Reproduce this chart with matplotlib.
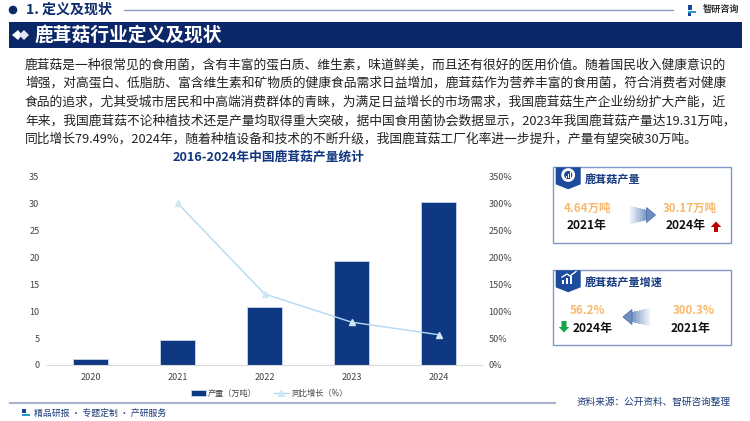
import matplotlib
matplotlib.use("Agg")
import matplotlib.pyplot as plt
from matplotlib.patches import Rectangle, Polygon, Circle, FancyArrow
import numpy as np

plt.rcParams['font.family'] = ['Noto Sans CJK SC', 'DejaVu Sans']

years = ["2020", "2021", "2022", "2023", "2024"]
output = [1.2, 4.64, 10.76, 19.31, 30.17]
growth = [None, 300.3, 131.9, 79.49, 56.2]
left_ticks = [0, 5, 10, 15, 20, 25, 30, 35]
right_ticks = [0, 50, 100, 150, 200, 250, 300, 350]
body_lines = [
    "鹿茸菇是一种很常见的食用菌，含有丰富的蛋白质、维生素，味道鲜美，而且还有很好的医用价值。随着国民收入健康意识的",
    "增强，对高蛋白、低脂肪、富含维生素和矿物质的健康食品需求日益增加，鹿茸菇作为营养丰富的食用菌，符合消费者对健康",
    "食品的追求，尤其受城市居民和中高端消费群体的青睐，为满足日益增长的市场需求，我国鹿茸菇生产企业纷纷扩大产能，近",
    "年来，我国鹿茸菇不论种植技术还是产量均取得重大突破，据中国食用菌协会数据显示，2023年我国鹿茸菇产量达19.31万吨，",
    "同比增长79.49%，2024年，随着种植设备和技术的不断升级，我国鹿茸菇工厂化率进一步提升，产量有望突破30万吨。",
]

NAVY = "#0d2b6b"
BAR = "#0f3882"
W, H = 750, 421
fig = plt.figure(figsize=(W/100, H/100), dpi=100, facecolor="white")

bg = fig.add_axes([0, 0, 1, 1])
bg.set_xlim(0, W); bg.set_ylim(H, 0); bg.axis("off")

# header
bg.add_patch(Circle((13, 10), 3.6, color=NAVY))
bg.text(26.5, 10, "1. 定义及现状", fontsize=10.1, fontweight="bold", color=NAVY, va="center")
bg.plot([124, 673], [9.5, 9.5], color="#8d9cbd", lw=1)
bg.add_patch(Rectangle((9, 22), 732.5, 26, color="#0c2768", lw=0))
bg.add_patch(Polygon([(12, 35), (18, 30), (22, 35), (18, 40)], color="white", lw=0))
bg.add_patch(Polygon([(19, 35), (24, 30), (29, 35), (24, 40)], color="#dfe4ee", lw=0))
bg.text(35, 35, "鹿茸菇行业定义及现状", fontsize=13.5, fontweight="bold", color="white", va="center")
bg.add_patch(Rectangle((688, 5), 4, 5, color="#16459a", lw=0))
bg.add_patch(Rectangle((688, 11), 8, 2, color="#2a9bd8", lw=0))
bg.add_patch(Rectangle((688, 13), 3, 3, color="#16459a", lw=0))
bg.text(702.7, 9.5, "智研咨询", fontsize=6.6, fontweight="bold", color="#333333", va="center")

# body
ys = [64.7, 83, 102, 120.7, 139.5]
for y, s in zip(ys, body_lines):
    bg.text(25, y, s, fontsize=9.2, color="#222222", va="center")

bg.text(269, 157, "2016-2024年中国鹿茸菇产量统计", fontsize=9.2, fontweight="bold",
        color="#10367f", ha="center", va="center")

# chart
ax = fig.add_axes([47/W, 1-365/H, (482-47)/W, (365-176.3)/H])
ax.patch.set_alpha(0)
x = np.arange(len(years))
ax.bar(x, output, width=0.4, color=BAR, edgecolor="#c9d6ea", linewidth=0.6, label="产量（万吨）")
ax.set_xlim(-0.5, 4.5); ax.set_ylim(0, 35)
ax.set_yticks(left_ticks)
ax.set_xticks(x, years)
ax.tick_params(length=0, labelsize=6.5, labelcolor="#444444")
ax.tick_params(axis="x", pad=5.5)
ax.tick_params(axis="y", pad=5.5)
for s in ["top", "left", "right"]:
    ax.spines[s].set_visible(False)
ax.spines["bottom"].set_color("#d9d9d9")

ax2 = ax.twinx()
ax2.patch.set_alpha(0)
gx = [i for i, v in enumerate(growth) if v is not None]
gy = [v for v in growth if v is not None]
ax2.plot(gx, gy, color="#b5d9f0", lw=1.0, marker="^", ms=4.5, mfc="#cfe6f5", mec="#cfe6f5",
         label="同比增长（%）")
ax2.set_ylim(0, 350)
ax2.set_yticks(right_ticks, [f"{t}%" for t in right_ticks])
ax2.tick_params(length=0, labelsize=6.5, labelcolor="#444444", pad=4.5)
for s in ax2.spines.values():
    s.set_visible(False)

h1, l1 = ax.get_legend_handles_labels()
h2, l2 = ax2.get_legend_handles_labels()
fig.legend(h1 + h2, l1 + l2, loc="center", bbox_to_anchor=(269/W, 1-393/H), ncol=2, frameon=False,
           fontsize=5.85, labelcolor="#444444", handlelength=1.9, columnspacing=2.1, handletextpad=0.2)

# footer
bg.plot([9.5, 555], [402.7, 402.7], color="#a9b2cc", lw=1.5)
bg.add_patch(Rectangle((22, 409), 4, 4, color="#16459a", lw=0))
bg.add_patch(Rectangle((22, 414), 8, 2, color="#2a9bd8", lw=0))
bg.text(34, 413, "精品研报 · 专题定制 · 产研服务", fontsize=6.4, color="#1b3a78", va="center")
bg.text(576.5, 401.5, "资料来源：公开资料、智研咨询整理", fontsize=6.95, color="#1b3a78", va="center")


def panel(y0, y1, title, items):
    bg.add_patch(Rectangle((552.5, y0), 178, y1 - y0, fill=False, ec="#7f98c6", lw=1))
    bg.add_patch(Polygon([(555.7, y0), (580.7, y0), (580.7, y0+17), (568.2, y0+22), (555.7, y0+17)],
                         color="#1e4c9c", lw=0))
    bg.text(585, y0+12.5, title, fontsize=8, fontweight="bold", color="#173a80", va="center")
    for (xx, yy, t, col, fs) in items:
        bg.text(xx, yy, t, color=col, fontsize=fs, fontweight="bold", ha="center", va="center")


ORANGE = "#f9b96c"
panel(167.3, 243.3, "鹿茸菇产量", [
    (587.5, 208, "4.64万吨", ORANGE, 8.3),
    (587, 226, "2021年", "#111111", 8.6),
    (689.5, 208, "30.17万吨", ORANGE, 8.3),
    (686, 226, "2024年", "#111111", 8.6),
])
panel(270.3, 345.3, "鹿茸菇产量增速", [
    (587.5, 310, "56.2%", ORANGE, 8.3),
    (592.7, 328.5, "2024年", "#111111", 8.6),
    (694, 310, "300.3%", ORANGE, 8.3),
    (691, 328.5, "2021年", "#111111", 8.6),
])

# icons on the badges
bg.add_patch(Circle((568.2, 175), 5.5, fill=False, ec="white", lw=2))
for dx, h in [(-2, 2), (0, 4), (2, 6)]:
    bg.add_patch(Rectangle((568.2+dx-0.7, 178-h), 1.4, h, color="white", lw=0))
for dx, h in [(-5, 4), (-1, 6), (3, 8)]:
    bg.add_patch(Rectangle((568.2+dx-1, 284-h), 2.2, h, color="white", lw=0))
bg.plot([562, 567, 570, 576], [277, 274, 276, 271.5], color="white", lw=1)


# gradient arrows
def grad_arrow(xa, xb, yc):
    """Arrow from xa (faded end) to xb (tip)."""
    sgn = 1 if xb > xa else -1
    head = 9 * sgn
    n = 24
    edges = np.linspace(xa, xb - head, n + 1)
    for i in range(n):
        a = i / n
        col = (1 - a * (1 - 0.47), 1 - a * (1 - 0.58), 1 - a * (1 - 0.76))
        half = 9.5 - 4.5 * a
        bg.add_patch(Rectangle((min(edges[i], edges[i+1]), yc - half), abs(edges[i+1] - edges[i]) + 0.3,
                               2 * half, color=col, lw=0))
    bg.add_patch(Polygon([(xb - head, yc - 7.5), (xb, yc), (xb - head, yc + 7.5)],
                         fc="#6f8dc0", ec="#4f72ad", lw=0.6))


grad_arrow(628, 655.5, 215)
grad_arrow(651.5, 623, 317)

# red / green arrows
bg.add_patch(FancyArrow(716, 232, 0, -10.5, width=4, head_width=10.5, head_length=5.5,
                        length_includes_head=True, color="#c00000", lw=0))
bg.add_patch(FancyArrow(564, 321, 0, 11.5, width=5, head_width=10.5, head_length=5.5,
                        length_includes_head=True, color="#12a84a", lw=0))

fig.savefig("out.png", dpi=100)
